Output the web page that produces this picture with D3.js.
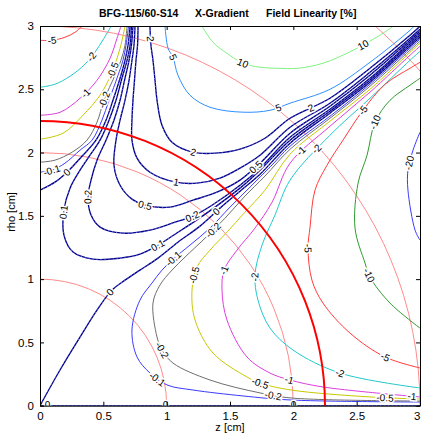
<!DOCTYPE html>
<html>
<head>
<meta charset="utf-8">
<script src="https://cdn.jsdelivr.net/npm/d3@7"></script>
<style>
body{margin:0;background:#fff}
text{font-family:"Liberation Sans",Arial,sans-serif}
</style>
</head>
<body>
<svg id="chart" width="421" height="435"></svg>
<script>
/* field linearity contours, z/rho in cm */

var zTicks=[0,0.5,1,1.5,2,2.5,3];
var rhoTicks=[0,0.5,1,1.5,2,2.5,3];
var guideRadii=[1,2,3,4];     // thin pink circles
var dsvRadius=2.25;           // thick red circle

// upper left family (ends on the left edge)
var neg5Top=[[0,2.887],[0.095,2.887],[0.197,2.911],[0.276,2.95],[0.332,2.998]];
var neg2Top=[[0,2.516],[0.118,2.54],[0.237,2.603],[0.355,2.698],[0.434,2.793],[0.505,2.903],[0.561,2.998]];
var neg1Top=[[0,2.295],[0.158,2.318],[0.316,2.429],[0.45,2.571],[0.553,2.745],[0.608,2.903],[0.639,2.998]];
var neg05Top=[[0,2.105],[0.182,2.153],[0.339,2.295],[0.474,2.453],[0.568,2.634],[0.632,2.824],[0.671,2.998]];
var neg02Top=[[0,1.924],[0.118,1.94],[0.253,2.003],[0.371,2.098],[0.45,2.24],[0.505,2.413],[0.592,2.611],[0.639,2.729],[0.671,2.848],[0.687,2.998]];
var neg01Top=[[0,1.845],[0.095,1.861],[0.197,1.916],[0.316,2.019],[0.411,2.098],[0.489,2.256],[0.545,2.413],[0.616,2.611],[0.655,2.729],[0.679,2.848],[0.699,2.998]];
var zeroTop=[[0,1.703],[0.118,1.766],[0.213,1.845],[0.339,1.979],[0.442,2.098],[0.521,2.256],[0.576,2.413],[0.632,2.587],[0.671,2.729],[0.695,2.848],[0.711,2.998]];

// positive family (top edge -> diagonal band)
var pos01=[[0.722,2.998],[0.711,2.848],[0.687,2.729],[0.647,2.587],[0.6,2.413],[0.545,2.256],[0.474,2.098],[0.395,1.979],[0.316,1.861],[0.237,1.719],[0.189,1.545],[0.189,1.348],[0.261,1.214],[0.418,1.158],[0.632,1.166],[0.789,1.197],[0.932,1.268],[1.066,1.355],[1.224,1.458],[1.382,1.569],[1.579,1.719],[1.737,1.861],[1.974,2.098],[2.289,2.327],[2.605,2.571],[2.921,2.856],[3,2.927]];
var pos02=[[0.734,2.998],[0.722,2.848],[0.703,2.729],[0.671,2.587],[0.632,2.413],[0.584,2.256],[0.521,2.098],[0.45,1.94],[0.403,1.782],[0.379,1.648],[0.403,1.506],[0.474,1.411],[0.655,1.363],[0.868,1.387],[1.066,1.45],[1.208,1.498],[1.358,1.584],[1.579,1.742],[1.737,1.877],[1.974,2.121],[2.289,2.342],[2.605,2.587],[2.921,2.871],[3,2.942]];
var pos05=[[0.75,2.998],[0.742,2.848],[0.726,2.729],[0.703,2.571],[0.671,2.413],[0.632,2.256],[0.6,2.098],[0.584,1.9],[0.632,1.742],[0.726,1.632],[0.829,1.584],[1.026,1.569],[1.208,1.624],[1.397,1.687],[1.579,1.782],[1.737,1.916],[1.974,2.153],[2.289,2.366],[2.605,2.611],[2.921,2.887],[3,2.958]];
var pos1=[[0.774,2.998],[0.77,2.848],[0.758,2.729],[0.746,2.571],[0.734,2.413],[0.726,2.256],[0.726,2.098],[0.766,1.956],[0.868,1.845],[1.074,1.766],[1.239,1.758],[1.421,1.798],[1.579,1.877],[1.737,1.979],[1.974,2.2],[2.289,2.39],[2.605,2.634],[2.921,2.903],[3,2.974]];
var pos2=[[0.868,2.998],[0.876,2.848],[0.892,2.729],[0.908,2.571],[0.924,2.413],[0.963,2.216],[1.042,2.082],[1.208,2.003],[1.382,1.995],[1.579,2.027],[1.776,2.113],[1.974,2.271],[2.289,2.429],[2.605,2.666],[2.921,2.927],[3,2.998]];
var pos5=[[0.987,2.998],[1.011,2.824],[1.05,2.753],[1.089,2.611],[1.184,2.453],[1.342,2.358],[1.603,2.319],[1.816,2.334],[1.974,2.39],[2.289,2.5],[2.605,2.713],[2.921,2.966],[2.953,2.998]];
var pos10=[[1.279,2.998],[1.366,2.871],[1.476,2.784],[1.603,2.706],[1.737,2.674],[1.871,2.666],[2.037,2.666],[2.234,2.706],[2.471,2.808],[2.708,2.943],[2.787,2.998]];

// zero line from the origin, and the axis itself
var zeroOrigin=[[0,0],[0.158,0.282],[0.316,0.542],[0.45,0.755],[0.568,0.913],[0.671,0.992],[0.789,1.071],[0.932,1.166],[1.089,1.292],[1.263,1.419],[1.421,1.561],[1.579,1.695],[1.737,1.829],[1.974,2.074],[2.289,2.311],[2.605,2.555],[2.921,2.84],[3,2.911]];
var zeroAxis=[[0,0],[3,0]];

// negative family (band -> bottom/right edge)
var neg01=[[3,0.029],[1.982,0.045],[1.603,0.077],[1.208,0.124],[1.003,0.164],[0.868,0.258],[0.766,0.385],[0.726,0.598],[0.789,0.834],[0.884,0.969],[0.963,1.071],[1.05,1.158],[1.184,1.269],[1.342,1.403],[1.5,1.569],[1.658,1.727],[1.816,1.885],[1.974,2.05],[2.289,2.287],[2.605,2.54],[2.921,2.824],[3,2.895]];
var neg02=[[3,0.037],[1.982,0.061],[1.737,0.101],[1.342,0.203],[1.05,0.337],[0.963,0.44],[0.924,0.542],[0.892,0.811],[0.947,0.953],[1.042,1.071],[1.145,1.174],[1.303,1.324],[1.461,1.482],[1.618,1.656],[1.776,1.814],[1.974,2.026],[2.289,2.271],[2.605,2.524],[2.921,2.808],[3,2.879]];
var neg05=[[3,0.053],[2.605,0.069],[1.982,0.124],[1.737,0.179],[1.634,0.227],[1.366,0.416],[1.224,0.677],[1.2,0.913],[1.239,1.095],[1.342,1.229],[1.476,1.371],[1.618,1.529],[1.776,1.703],[1.974,1.987],[2.289,2.248],[2.605,2.5],[2.921,2.792],[3,2.864]];
var neg1=[[3,0.069],[2.234,0.148],[1.974,0.203],[1.816,0.258],[1.634,0.385],[1.476,0.677],[1.437,0.913],[1.453,1.071],[1.555,1.229],[1.697,1.403],[1.832,1.608],[1.974,1.916],[2.289,2.208],[2.605,2.477],[2.921,2.769],[3,2.84]];
var neg2=[[3,0.14],[2.368,0.258],[1.997,0.44],[1.816,0.613],[1.721,0.834],[1.697,1.032],[1.753,1.269],[1.855,1.506],[1.974,1.782],[2.289,2.137],[2.605,2.429],[2.921,2.729],[3,2.8]];
var neg5=[[3,0.298],[2.724,0.385],[2.447,0.574],[2.234,0.811],[2.147,0.992],[2.116,1.245],[2.132,1.411],[2.171,1.703],[2.266,1.9],[2.392,2.098],[2.55,2.334],[2.724,2.539],[2.921,2.666],[3,2.713]];
var neg10=[[3,0.613],[2.763,0.811],[2.605,1.016],[2.566,1.127],[2.487,1.403],[2.511,1.758],[2.582,1.979],[2.645,2.24],[2.763,2.413],[2.921,2.532],[3,2.587]];
var neg20=[[3,2.161],[2.945,2.019],[2.905,1.861],[2.905,1.703],[2.961,1.387],[3,1.308]];

// inline labels: line name, approximate position
var labelSpots=[
  ["neg5Top",0.095,2.887],["neg2Top",0.411,2.753],["neg1Top",0.355,2.477],["neg05Top",0.529,2.666],
  ["neg02Top",0.45,2.437],["neg01Top",0.095,1.861],["zeroTop",0.213,1.845],
  ["pos01",0.182,1.529],["pos02",0.379,1.648],["pos05",0.829,1.584],["pos1",1.074,1.766],
  ["pos2",1.208,2.003],["pos2",0.88,2.9],["pos2",2.147,2.33],["pos5",1.05,2.753],["pos5",1.879,2.358],
  ["pos10",1.603,2.706],["pos10",2.55,2.856],["zeroOrigin",0.553,0.898],["pos01",0.932,1.268],
  ["neg01",1.05,1.166],["neg01",0.932,0.219],["neg02",0.963,0.44],["neg02",1.839,0.069],["neg02",1.342,1.411],
  ["pos02",1.208,1.482],["zeroOrigin",1.382,1.545],["neg05",1.208,1.032],["neg05",1.737,0.179],["neg05",2.724,0.061],
  ["neg1",1.445,1.071],["neg1",1.974,0.227],["neg1",2.937,0.077],["neg1",2.068,2.003],
  ["neg2",1.697,1.016],["neg2",2.368,0.258],["neg2",2.171,2.042],
  ["neg5",2.116,1.245],["neg5",2.724,0.385],["neg5",2.55,2.334],
  ["neg10",2.645,2.24],["neg10",2.605,1.032],["neg20",2.897,1.924],["pos05",1.713,1.877],
  ["zeroAxis",0.06,0],["zeroAxis",0.99,0],["zeroAxis",2.0,0]
];

var contourTable=[
  {name:"neg5Top",level:-5,pts:neg5Top},{name:"neg2Top",level:-2,pts:neg2Top},{name:"neg1Top",level:-1,pts:neg1Top},
  {name:"neg05Top",level:-0.5,pts:neg05Top},{name:"neg02Top",level:-0.2,pts:neg02Top},{name:"neg01Top",level:-0.1,pts:neg01Top},
  {name:"zeroTop",level:0,pts:zeroTop},{name:"pos01",level:0.1,pts:pos01},{name:"pos02",level:0.2,pts:pos02},
  {name:"pos05",level:0.5,pts:pos05},{name:"pos1",level:1,pts:pos1},{name:"pos2",level:2,pts:pos2},
  {name:"pos5",level:5,pts:pos5},{name:"pos10",level:10,pts:pos10},{name:"zeroOrigin",level:0,pts:zeroOrigin},
  {name:"zeroAxis",level:0,pts:zeroAxis},{name:"neg01",level:-0.1,pts:neg01},{name:"neg02",level:-0.2,pts:neg02},
  {name:"neg05",level:-0.5,pts:neg05},{name:"neg1",level:-1,pts:neg1},{name:"neg2",level:-2,pts:neg2},
  {name:"neg5",level:-5,pts:neg5},{name:"neg10",level:-10,pts:neg10},{name:"neg20",level:-20,pts:neg20}
];

function levelColor(v){
  if(v===10)return "#80f080";
  if(v===5)return "#2f8fff";
  if(v>=0)return "#00008c";
  if(v===-0.1)return "#3a3aff";
  if(v===-0.2)return "#6e6e6e";
  if(v===-0.5)return "#c8c800";
  if(v===-1)return "#dd3ddd";
  if(v===-2)return "#22c8cc";
  if(v===-5)return "#ff3a3a";
  if(v===-10)return "#2f9a2f";
  return "#3a3aff";
}

var svg=d3.select("#chart");
svg.append("rect").attr("width",421).attr("height",435).attr("fill","#fff");

var x=d3.scaleLinear().domain([0,3]).range([40,420]);
var y=d3.scaleLinear().domain([0,3]).range([405.7,26]);

svg.append("clipPath").attr("id","plotClip")
  .append("rect").attr("x",40).attr("y",26).attr("width",380).attr("height",379.7);

var plot=svg.append("g").attr("clip-path","url(#plotClip)");

// guide circles
plot.selectAll(".guide").data(guideRadii).enter().append("ellipse")
  .attr("cx",x(0)).attr("cy",y(0))
  .attr("rx",function(r){return x(r)-x(0)})
  .attr("ry",function(r){return y(0)-y(r)})
  .attr("fill","none").attr("stroke","#ff8a8a").attr("stroke-width",1);

var line=d3.line().x(function(d){return x(d[0])}).y(function(d){return y(d[1])}).curve(d3.curveCatmullRom.alpha(0.5));

var pathNodes={};
contourTable.forEach(function(c){
  var navy=c.level>=0&&c.level<=2;
  var p=plot.append("path").attr("d",line(c.pts)).attr("fill","none")
    .attr("stroke",levelColor(c.level)).attr("stroke-width",navy?1.35:1);
  pathNodes[c.name]={node:p.node(),level:c.level};
  if(navy){
    plot.append("path").attr("d",line(c.pts)).attr("fill","none")
      .attr("stroke","#a0a0ff").attr("stroke-width",0.7).attr("stroke-dasharray","1 3");
  }
});

// design sphere
plot.append("ellipse").attr("cx",x(0)).attr("cy",y(0))
  .attr("rx",x(dsvRadius)-x(0)).attr("ry",y(0)-y(dsvRadius))
  .attr("fill","none").attr("stroke","#ff0000").attr("stroke-width",2);

// contour labels
var labelG=plot.append("g");
labelSpots.forEach(function(l){
  var info=pathNodes[l[0]], node=info.node, len=node.getTotalLength();
  var tx=x(l[1]), ty=y(l[2]), best=0, bd=1e12;
  for(var s=0;s<=len;s+=0.5){
    var q=node.getPointAtLength(s), d=(q.x-tx)*(q.x-tx)+(q.y-ty)*(q.y-ty);
    if(d<bd){bd=d;best=s;}
  }
  var p=node.getPointAtLength(best);
  var a=node.getPointAtLength(Math.max(0,best-4)), b=node.getPointAtLength(Math.min(len,best+4));
  var ang=Math.atan2(b.y-a.y,b.x-a.x)*180/Math.PI;
  if(ang>90)ang-=180;
  if(ang<-90)ang+=180;
  labelG.append("text")
    .attr("transform","translate("+p.x+","+p.y+") rotate("+ang+")")
    .attr("text-anchor","middle").attr("dy","0.35em")
    .attr("font-size",10).attr("fill","#000")
    .attr("stroke","#fff").attr("stroke-width",3).attr("paint-order","stroke")
    .text(String(info.level));
});

// axes, MATLAB style with inward ticks
var fmt=function(d){return String(d)};
var xAxisG=svg.append("g").attr("transform","translate(0,405.7)")
  .call(d3.axisBottom(x).tickValues(zTicks).tickSize(-4).tickSizeOuter(0).tickPadding(6).tickFormat(fmt));
svg.append("g").attr("transform","translate(40,0)")
  .call(d3.axisLeft(y).tickValues(rhoTicks).tickSize(-4).tickSizeOuter(0).tickPadding(6).tickFormat(fmt));
svg.append("g").attr("transform","translate(0,26)")
  .call(d3.axisTop(x).tickValues(zTicks).tickSize(-4).tickSizeOuter(0).tickFormat(""));
svg.append("g").attr("transform","translate(420,0)")
  .call(d3.axisRight(y).tickValues(rhoTicks).tickSize(-4).tickSizeOuter(0).tickFormat(""));
svg.selectAll(".tick text").attr("font-size",11.5).attr("font-family","Liberation Sans, Arial, sans-serif").attr("fill","#000");
xAxisG.selectAll(".tick text").filter(function(d){return d===3}).attr("text-anchor","end").attr("dx","0");
svg.selectAll(".domain").attr("stroke","#000");

svg.append("text").attr("x",230).attr("y",431).attr("text-anchor","middle").attr("font-size",11).text("z [cm]");
svg.append("text").attr("transform","translate(15,212) rotate(-90)").attr("text-anchor","middle").attr("font-size",11).text("rho [cm]");

var title=svg.append("g").attr("font-size",10.5).attr("font-weight","bold");
title.append("text").attr("x",99).attr("y",17).text("BFG-115/60-S14");
title.append("text").attr("x",195).attr("y",17).text("X-Gradient");
title.append("text").attr("x",266).attr("y",17).text("Field Linearity [%]");
</script>
</body>
</html>
